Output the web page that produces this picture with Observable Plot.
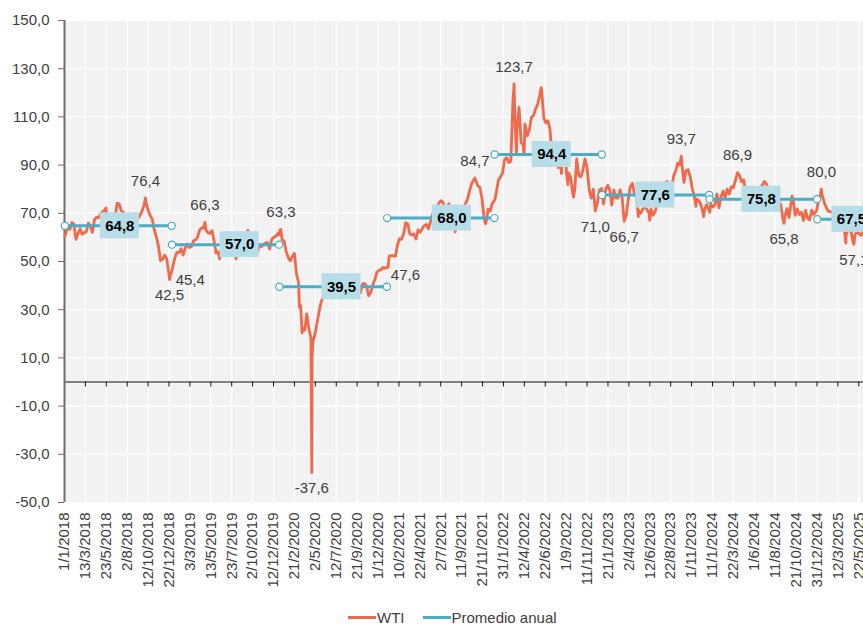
<!DOCTYPE html>
<html><head><meta charset="utf-8">
<script src="https://cdn.jsdelivr.net/npm/d3@7"></script>
<script src="https://cdn.jsdelivr.net/npm/@observablehq/plot@0.6"></script>
<style>
body{margin:0;background:#fff;font-family:"Liberation Sans",Arial,sans-serif;}
#legend{width:863px;height:34px;display:flex;align-items:center;padding-left:348px;box-sizing:border-box;font-size:15px;color:#404040;}
#legend .sw{display:inline-block;width:28px;height:3px;margin-right:1px;}
#legend .item{display:flex;align-items:center;margin-right:18px;}
</style></head><body>
<div id="chart"></div>
<div id="legend"></div>
<script>
// ---- Data ----
const seriesNames = ["WTI", "Promedio anual"];
const seriesColors = ["#f0694a", "#4bacc6"];

const wti2018 = [["01-02",60.4],["01-05",61.4],["01-12",64.3],["01-19",63.4],["01-26",66.1],["02-02",65.5],["02-09",59.2],["02-16",61.7],["02-23",63.6],["03-02",61.3],["03-09",62.0],["03-16",62.3],["03-23",65.9],["03-29",64.9],["04-06",62.1],["04-13",67.4],["04-20",68.4],["04-27",68.1],["05-04",69.7],["05-11",70.7],["05-18",71.3],["05-22",72.2],["05-25",67.9],["06-01",65.8],["06-08",65.7],["06-15",65.1],["06-22",68.6],["06-29",74.2],["07-06",73.8],["07-13",71.0],["07-20",70.5],["07-27",68.7],["08-03",68.5],["08-10",67.6],["08-17",65.9],["08-24",68.7],["08-31",69.8],["09-07",67.8],["09-14",69.0],["09-21",70.8],["09-28",73.3],["10-03",76.4],["10-05",74.3],["10-12",71.3],["10-19",69.1],["10-26",67.6],["11-02",63.1],["11-09",60.2],["11-16",56.5],["11-23",50.4],["11-30",50.9],["12-07",52.6],["12-14",51.2],["12-21",45.6],["12-24",42.5],["12-28",45.3],["12-31",45.4]];
const wti2019 = [["01-04",48.0],["01-11",51.6],["01-18",53.8],["01-25",53.7],["02-01",55.3],["02-08",52.7],["02-15",55.6],["02-22",57.3],["03-01",55.8],["03-08",56.1],["03-15",58.5],["03-22",59.0],["03-29",60.1],["04-05",63.1],["04-12",63.9],["04-18",64.0],["04-23",66.3],["04-26",63.3],["05-03",61.9],["05-10",61.7],["05-17",62.8],["05-24",58.6],["05-31",53.5],["06-07",54.0],["06-12",51.1],["06-14",52.5],["06-21",57.4],["06-28",58.5],["07-05",57.5],["07-12",60.2],["07-19",55.6],["07-26",56.2],["08-02",55.7],["08-07",51.1],["08-09",54.5],["08-16",54.9],["08-23",54.2],["08-30",55.1],["09-06",56.5],["09-13",54.9],["09-16",62.9],["09-20",58.1],["09-27",55.9],["10-03",52.5],["10-11",54.7],["10-18",53.8],["10-25",56.7],["11-01",56.2],["11-08",57.2],["11-15",57.7],["11-22",57.8],["11-29",55.2],["12-06",59.2],["12-13",60.1],["12-20",60.4],["12-27",61.7],["12-31",61.1]];
const wti2020 = [["01-03",63.1],["01-06",63.3],["01-10",59.0],["01-17",58.5],["01-24",54.2],["01-31",51.6],["02-07",50.3],["02-14",52.1],["02-21",53.4],["02-28",44.8],["03-06",41.3],["03-09",31.1],["03-13",31.7],["03-18",20.4],["03-20",22.4],["03-27",21.5],["04-03",28.3],["04-09",22.8],["04-17",18.3],["04-20",-37.6],["04-21",10.0],["04-24",17.0],["05-01",19.8],["05-08",24.7],["05-15",29.4],["05-22",33.3],["05-29",35.5],["06-05",39.6],["06-12",36.3],["06-19",39.8],["06-26",38.5],["07-03",40.7],["07-10",40.6],["07-17",40.6],["07-24",41.3],["07-31",40.3],["08-07",41.2],["08-14",42.0],["08-21",42.3],["08-28",43.0],["09-04",39.8],["09-08",36.8],["09-11",37.3],["09-18",41.1],["09-25",40.3],["10-02",37.1],["10-09",40.6],["10-16",40.9],["10-23",39.9],["10-30",35.8],["11-06",37.1],["11-13",40.1],["11-20",42.4],["11-27",45.5],["12-04",46.3],["12-11",46.6],["12-18",47.5],["12-24",47.2],["12-31",47.6]];
const wti2021 = [["01-04",47.6],["01-08",52.2],["01-15",52.4],["01-22",52.3],["01-29",52.2],["02-05",56.9],["02-12",59.5],["02-19",59.2],["02-26",61.5],["03-05",66.1],["03-12",65.6],["03-19",61.4],["03-26",61.0],["04-01",61.5],["04-09",59.3],["04-16",63.1],["04-23",62.1],["04-30",63.6],["05-07",64.9],["05-14",65.4],["05-21",63.6],["05-28",66.3],["06-04",69.6],["06-11",70.9],["06-18",71.6],["06-25",74.1],["07-02",75.2],["07-09",74.6],["07-16",71.8],["07-19",66.4],["07-23",72.1],["07-30",74.0],["08-06",68.3],["08-13",68.4],["08-20",62.3],["08-27",68.7],["09-03",69.3],["09-10",69.7],["09-17",72.0],["09-24",74.0],["10-01",75.9],["10-08",79.4],["10-15",82.3],["10-22",83.8],["10-26",84.7],["10-29",83.6],["11-05",81.3],["11-12",80.8],["11-19",76.1],["11-26",68.2],["12-01",65.6],["12-03",66.3],["12-10",71.7],["12-17",70.9],["12-23",73.8],["12-31",75.2]];
const wti2022 = [["01-03",76.1],["01-07",78.9],["01-14",83.8],["01-21",85.1],["01-28",86.8],["02-04",92.3],["02-11",93.1],["02-18",91.1],["02-25",91.6],["03-04",115.7],["03-08",123.7],["03-11",109.3],["03-16",95.0],["03-18",104.7],["03-25",113.9],["04-01",99.3],["04-08",98.3],["04-11",94.3],["04-14",107.0],["04-22",102.1],["04-29",104.7],["05-06",109.8],["05-13",110.5],["05-20",113.2],["05-27",115.1],["06-03",118.9],["06-08",122.1],["06-10",120.7],["06-17",109.6],["06-24",107.6],["07-01",108.4],["07-08",104.8],["07-14",95.8],["07-15",97.6],["07-22",94.7],["07-29",98.6],["08-05",89.0],["08-12",92.1],["08-16",86.5],["08-19",90.8],["08-26",93.1],["08-29",97.0],["09-02",86.9],["09-07",81.9],["09-09",86.8],["09-16",85.1],["09-23",78.7],["09-26",76.7],["09-30",79.5],["10-07",92.6],["10-14",85.6],["10-21",85.1],["10-28",87.9],["11-04",92.6],["11-11",89.0],["11-18",80.1],["11-25",76.3],["12-02",80.0],["12-09",71.0],["12-16",74.3],["12-23",79.6],["12-30",80.3]];
const wti2023 = [["01-03",76.9],["01-06",73.8],["01-13",79.9],["01-20",81.6],["01-27",79.7],["02-03",73.4],["02-10",79.7],["02-17",76.3],["02-24",76.3],["03-03",79.7],["03-10",76.7],["03-17",66.7],["03-24",69.3],["03-31",75.7],["04-06",80.7],["04-14",82.5],["04-21",77.9],["04-28",76.8],["05-04",68.6],["05-05",71.3],["05-12",70.0],["05-19",71.7],["05-26",72.7],["06-02",71.7],["06-09",70.2],["06-12",67.1],["06-16",71.8],["06-23",69.2],["06-30",70.6],["07-07",73.9],["07-14",75.4],["07-21",77.1],["07-28",80.6],["08-04",82.8],["08-11",83.2],["08-18",81.3],["08-25",79.8],["09-01",85.6],["09-08",87.5],["09-15",90.8],["09-22",90.0],["09-27",93.7],["09-29",90.8],["10-06",82.8],["10-13",87.7],["10-20",88.1],["10-27",85.5],["11-03",80.5],["11-10",77.2],["11-16",72.9],["11-17",75.9],["11-24",75.5],["12-01",74.1],["12-08",71.2],["12-12",68.6],["12-15",71.4],["12-22",73.6],["12-29",71.7]];
const wti2024 = [["01-02",70.4],["01-05",73.8],["01-12",72.7],["01-19",73.4],["01-26",78.0],["02-02",72.3],["02-09",76.8],["02-16",79.2],["02-23",76.5],["03-01",80.0],["03-08",78.0],["03-15",81.0],["03-22",80.6],["03-28",83.2],["04-05",86.9],["04-12",85.7],["04-19",83.1],["04-26",83.9],["05-03",78.1],["05-10",78.3],["05-17",80.0],["05-24",77.7],["05-31",77.0],["06-04",73.3],["06-07",75.5],["06-14",78.5],["06-21",80.7],["06-28",81.5],["07-05",83.2],["07-12",82.2],["07-19",80.1],["07-26",77.2],["08-02",73.5],["08-09",76.8],["08-16",76.7],["08-23",74.8],["08-30",73.6],["09-06",67.7],["09-10",65.8],["09-13",68.7],["09-20",71.9],["09-27",68.2],["10-04",74.4],["10-07",77.1],["10-11",75.6],["10-18",69.2],["10-25",71.8],["11-01",69.5],["11-08",70.4],["11-15",67.0],["11-22",71.2],["11-29",68.0],["12-06",67.2],["12-13",71.3],["12-20",69.5],["12-27",70.6],["12-31",71.7]];
const wti2025 = [["01-03",74.0],["01-10",76.6],["01-15",80.0],["01-17",77.9],["01-24",74.7],["01-31",72.5],["02-07",71.0],["02-14",70.7],["02-21",70.4],["02-28",69.8],["03-07",67.0],["03-10",66.0],["03-14",67.2],["03-21",68.3],["03-28",69.4],["04-02",71.7],["04-04",62.0],["04-08",57.6],["04-09",62.4],["04-11",61.5],["04-17",64.7],["04-25",63.0],["05-02",58.3],["05-05",57.1],["05-09",61.0],["05-16",62.5],["05-23",61.5],["05-30",60.8],["06-04",62.9]];

const avgYears = [2018, 2019, 2020, 2021, 2022, 2023, 2024, 2025];
const avgValues = [64.8, 57.0, 39.5, 68.0, 94.4, 77.6, 75.8, 67.5];
const avgStarts = ["2018-01-02","2019-01-01","2020-01-01","2021-01-01","2022-01-01","2023-01-01","2024-01-01","2025-01-01"];
const avgEnds = ["2018-12-31","2019-12-31","2020-12-31","2021-12-31","2022-12-31","2023-12-31","2024-12-31","2025-05-30"];
const avgLabelDates = ["2018-07-08","2019-08-19","2020-07-30","2021-08-09","2022-07-14","2023-07-01","2024-06-25","2025-04-27"];

const noteDates = ["2018-10-03","2018-12-24","2018-12-31","2019-04-23","2020-01-06","2020-04-20","2020-12-31","2021-10-26","2022-03-08","2022-12-09","2023-03-17","2023-09-27","2024-04-05","2024-09-10","2025-01-15","2025-05-05"];
const noteValues = [76.4, 42.5, 45.4, 66.3, 63.3, -37.6, 47.6, 84.7, 123.7, 71.0, 66.7, 93.7, 86.9, 65.8, 80.0, 57.1];
const noteSides = ["top","bottom","right","top","top","bottom","right","top","top","bottom","bottom","top","top","bottom","top","bottom"];

const xTickLabels = ["1/1/2018","13/3/2018","23/5/2018","2/8/2018","12/10/2018","22/12/2018","3/3/2019","13/5/2019","23/7/2019","2/10/2019","12/12/2019","21/2/2020","2/5/2020","12/7/2020","21/9/2020","1/12/2020","10/2/2021","22/4/2021","2/7/2021","11/9/2021","21/11/2021","31/1/2022","12/4/2022","22/6/2022","1/9/2022","11/11/2022","21/1/2023","2/4/2023","12/6/2023","22/8/2023","1/11/2023","11/1/2024","22/3/2024","1/6/2024","11/8/2024","21/10/2024","31/12/2024","12/3/2025","22/5/2025"];
const yTicks = [-50, -30, -10, 10, 30, 50, 70, 90, 110, 130, 150];
const xDomain = ["2018-01-01", "2025-06-07"];

// ---- Build tables ----
const utc = s => new Date(s + "T00:00:00Z");
const wtiByYear = [[2018, wti2018],[2019, wti2019],[2020, wti2020],[2021, wti2021],[2022, wti2022],[2023, wti2023],[2024, wti2024],[2025, wti2025]];
const wti = wtiByYear.flatMap(([yr, arr]) => arr.map(([md, v]) => ({date: utc(yr + "-" + md), value: v})));
const avgRows = avgYears.map((y, i) => ({year: y, value: avgValues[i], start: utc(avgStarts[i]), end: utc(avgEnds[i]), label: utc(avgLabelDates[i])}));
const avgEndpoints = avgRows.flatMap(d => [{date: d.start, value: d.value}, {date: d.end, value: d.value}]);
const notes = noteDates.map((d, i) => ({date: utc(d), value: noteValues[i], side: noteSides[i]}));
const xTicks = xTickLabels.map(s => { const [d, m, y] = s.split("/").map(Number); return new Date(Date.UTC(y, m - 1, d)); });
const fmtNum = v => v.toFixed(1).replace(".", ",");
const fmtDate = d => `${d.getUTCDate()}/${d.getUTCMonth() + 1}/${d.getUTCFullYear()}`;

const [orange, blue] = seriesColors;
const boxFill = "#b7dee8";
const textColor = "#404040";

const chart = Plot.plot({
  width: 863,
  height: 600,
  marginLeft: 64,
  marginRight: 0,
  marginTop: 20,
  marginBottom: 98,
  style: {fontFamily: '"Liberation Sans", Arial, sans-serif', fontSize: "15px", color: textColor, background: "white", overflow: "hidden"},
  x: {type: "utc", domain: xDomain.map(utc), label: null},
  y: {domain: [-50, 150], label: null},
  marks: [
    Plot.frame({fill: "#f2f2f2", stroke: null}),
    Plot.gridX(xTicks, {stroke: "white", strokeOpacity: 1, strokeWidth: 1.2}),
    Plot.gridY(yTicks, {stroke: "white", strokeOpacity: 1, strokeWidth: 1.2}),
    Plot.ruleY([0], {stroke: "#111", strokeWidth: 1.2}),
    Plot.ruleX(xTicks, {x: d => d, y1: () => 0, y2: () => 0, insetBottom: -5, stroke: "#111", strokeWidth: 1}),
    Plot.ruleX([utc(xDomain[0])], {stroke: "#6f6f6f", strokeWidth: 2}),
    Plot.axisY(yTicks, {label: null, tickSize: 6, tickPadding: 9, tickFormat: fmtNum, stroke: "#6f6f6f", fill: textColor, fontSize: 15}),
    Plot.axisX(xTicks, {label: null, tickSize: 0, tickPadding: 10, tickRotate: -90, tickFormat: fmtDate, fill: textColor, fontSize: 15}),
    Plot.lineY(wti, {x: "date", y: "value", stroke: orange, strokeWidth: 2.8, strokeLinejoin: "round"}),
    Plot.link(avgRows, {x1: "start", x2: "end", y1: "value", y2: "value", stroke: blue, strokeWidth: 3}),
    Plot.dot(avgEndpoints, {x: "date", y: "value", r: 3.6, fill: "white", stroke: blue, strokeWidth: 1.2}),
    Plot.rect(avgRows, {x1: "label", x2: "label", y1: "value", y2: "value", insetLeft: -19.5, insetRight: -19.5, insetTop: -13, insetBottom: -13, fill: boxFill}),
    Plot.text(avgRows, {x: "label", y: "value", text: d => fmtNum(d.value), fontWeight: "bold", fontSize: 15, fill: "black"}),
    Plot.text(notes.filter(d => d.side === "top"), {x: "date", y: "value", text: d => fmtNum(d.value), dy: -17, fontSize: 15, fill: textColor}),
    Plot.text(notes.filter(d => d.side === "bottom"), {x: "date", y: "value", text: d => fmtNum(d.value), dy: 16, fontSize: 15, fill: textColor}),
    Plot.text(notes.filter(d => d.side === "right"), {x: "date", y: "value", text: d => fmtNum(d.value), dx: 4, dy: 8, textAnchor: "start", fontSize: 15, fill: textColor})
  ]
});
document.getElementById("chart").appendChild(chart);

const legend = document.getElementById("legend");
seriesNames.forEach((name, i) => {
  const item = document.createElement("span");
  item.className = "item";
  const sw = document.createElement("span");
  sw.className = "sw";
  sw.style.background = seriesColors[i];
  item.appendChild(sw);
  item.appendChild(document.createTextNode(name));
  legend.appendChild(item);
});
</script>
</body></html>
